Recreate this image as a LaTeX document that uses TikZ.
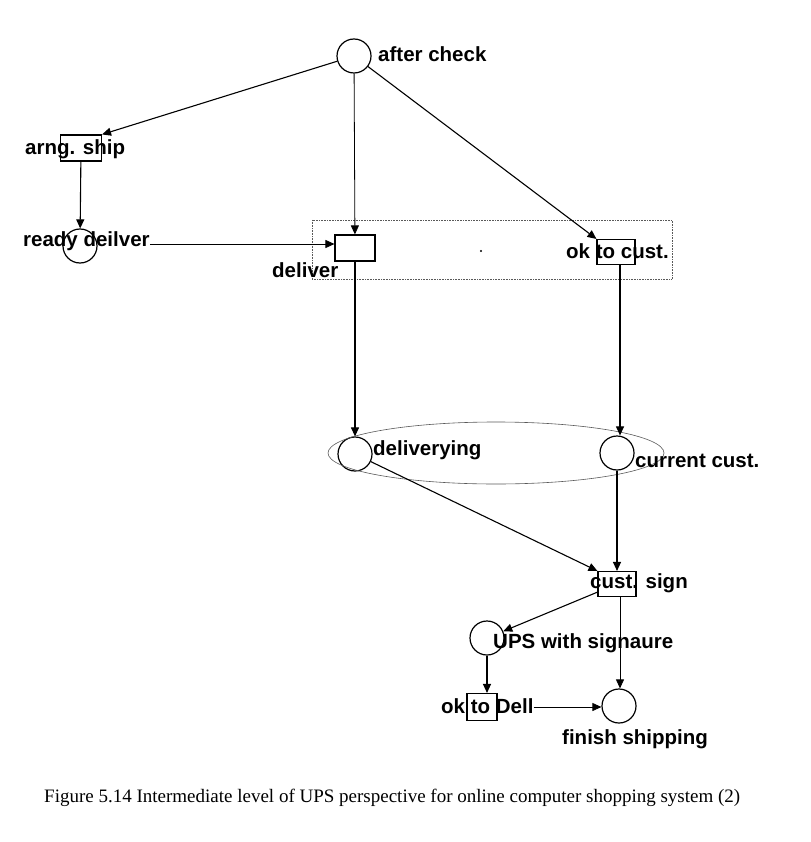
\documentclass[tikz,border=0pt]{standalone}
\usepackage{fontspec}
\setmainfont{Liberation Sans}
\newfontfamily\capfont{Liberation Serif}
\usetikzlibrary{arrows.meta}
\begin{document}
\begin{tikzpicture}[x=1pt,y=-1pt,
  place/.style={draw,circle,minimum size=34pt,inner sep=0pt,line width=1.2pt},
  trans/.style={draw,rectangle,minimum width=40pt,minimum height=25pt,inner sep=0pt,line width=1.1pt},
  lbl/.style={anchor=base west,inner sep=0pt,font=\fontsize{20.5}{20.5}\selectfont\bfseries},
  arc/.style={line width=1.1pt,-{Triangle[length=9pt,width=8pt]}},
  thinarc/.style={line width=0.8pt,-{Triangle[length=9pt,width=8pt]}},
  group/.style={line width=0.6pt,densely dotted,gray!70!black}]
\useasboundingbox (0,0) rectangle (810,842);
% places
\node[place] (ac) at (354,56) {};
\node[place] (rd) at (80,246) {};
\node[place] (dy) at (355,454) {};
\node[place] (cc) at (617,453) {};
\node[place] (ups) at (487,638) {};
\node[place] (fs) at (619,706) {};
% transitions
\node[trans,minimum width=41pt,minimum height=26pt] (as) at (81,148) {};
\node[trans,minimum width=40pt,minimum height=26pt] (dl) at (355,248) {};
\node[trans,minimum width=38pt,minimum height=25pt] (oc) at (616,252) {};
\node[trans,minimum width=38pt,minimum height=25pt] (cs) at (617,584) {};
\node[trans,minimum width=30pt,minimum height=27pt] (od) at (482,707) {};
% groups
\draw[group] (312,220) rectangle (672,279);
\draw[group,solid] (496,453) ellipse [x radius=168pt, y radius=31pt];
\fill (481,251) circle (1.2pt);
% labels
\node[lbl] (lac) at (378,62) {after check};
\node[lbl] (las) at (25,155) {arng. ship};
\node[lbl] (lrd) at (23,246) {ready deilver};
\node[lbl] (ldl) at (272,277) {deliver};
\node[lbl] (loc) at (566,258) {ok to cust.};
\node[lbl] (ldy) at (373,455) {deliverying};
\node[lbl] (lcc) at (635,467) {current cust.};
\node[lbl] (lcs) at (590,588) {cust. sign};
\node[lbl] (lups) at (493,648) {UPS with signaure};
\node[lbl] (lod) at (441,713) {ok to Dell};
\node[lbl] (lfs) at (562,744) {finish shipping};
% caption
\node[anchor=base west,inner sep=0pt,font=\capfont\fontsize{19}{19}\selectfont] (cap) at (44,802)
  {Figure 5.14 Intermediate level of UPS perspective for online computer shopping system (2)};
% arcs
\draw[arc] (ac) -- (as.north east);
\draw[thinarc] (ac) -- (dl);
\draw[arc] (ac) -- (oc.north west);
\draw[arc] (as) -- (rd);
\draw[thinarc] (lrd.east |- 0,244) -- (dl.west |- 0,244);
\draw[arc] (dl) -- (dy);
\draw[arc] (oc.south -| 620,0) -- (cc.north -| 620,0);
\draw[arc] (dy) -- (cs.north west);
\draw[arc] (cc) -- (cs);
\draw[arc] (cs) -- (ups);
\draw[thinarc] (cs.south -| 620,0) -- (fs.north -| 620,0);
\draw[arc] (ups.south -| 487,0) -- (od.north -| 487,0);
\draw[thinarc] (lod.east |- 0,707) -- (fs.west |- 0,707);
\end{tikzpicture}
\end{document}
